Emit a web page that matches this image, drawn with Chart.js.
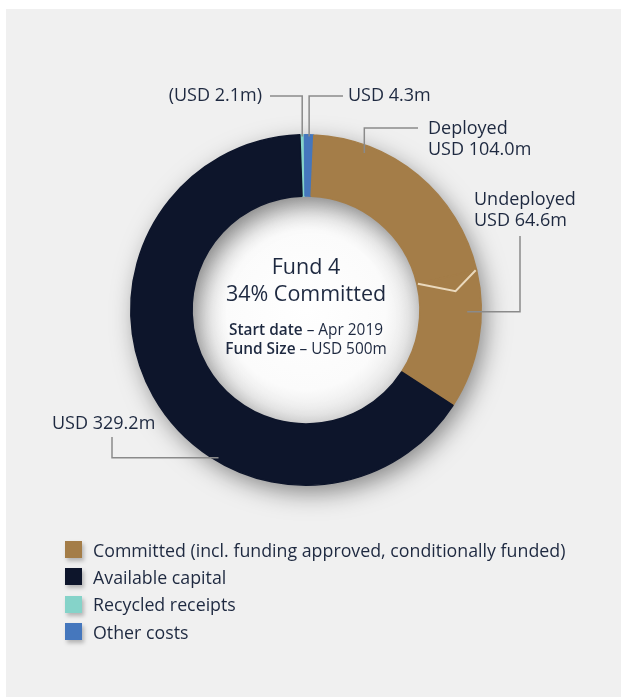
<!DOCTYPE html>
<html lang="en">
<head>
  <meta charset="UTF-8" />
  <title>Fund 4</title>
  <script src="https://cdn.jsdelivr.net/npm/chart.js"></script>
  <style>
    body {
      margin: 0;
      background: #ffffff;
      font-family: "Open Sans", sans-serif;
      width: 621px;
      height: 698px;
      position: relative;
      overflow: hidden;
    }
    #panel {
      position: absolute;
      left: 6px; top: 9px;
      width: 615px; height: 688px;
      background: #f0f0f0;
    }
    #grafico {
      position: absolute;
      left: 0; top: 0;
    }
    #leyenda {
      position: absolute;
      left: 65px; top: 536px;
      color: #1e2940;
      font-size: 17.8px;
    }
    .item {
      height: 27.3px;
      display: flex;
      align-items: center;
    }
    .caja {
      width: 17px; height: 17px;
      margin-right: 11px;
      box-shadow: 2px 3px 4px rgba(0,0,0,0.25);
    }
  </style>
</head>
<body>
<div id="panel"></div>
<canvas id="grafico" width="621" height="698"></canvas>
<div id="leyenda"></div>

<script>
// datos
const sliceLabels = ['Recycled receipts', 'Other costs', 'Deployed', 'Undeployed', 'Available capital'];
const sliceValues = [2.1, 4.3, 104.0, 64.6, 329.2];
const sliceColors = ['#85d3c9', '#4577bd', '#a47d48', '#a47d48', '#0d152b'];

const legendLabels = ['Committed (incl. funding approved, conditionally funded)', 'Available capital', 'Recycled receipts', 'Other costs'];
const legendColors = ['#a47d48', '#0d152b', '#85d3c9', '#4577bd'];

const centerLines = ['Fund 4', '34% Committed'];
const infoLines = [['Start date', ' \u2013 Apr 2019'], ['Fund Size', ' \u2013 USD 500m']];

const textColor = '#1e2940';
const lineColor = '#8a8a8a';

// textos de cada etiqueta
const fmt = v => 'USD ' + v.toFixed(1) + 'm';
const labelTexts = [
  ['(' + fmt(sliceValues[0]) + ')'],
  [fmt(sliceValues[1])],
  ['Deployed', fmt(sliceValues[2])],
  ['Undeployed', fmt(sliceValues[3])],
  [fmt(sliceValues[4])]
];

// lineas guia: indice, fraccion del arco, radio relativo, modo, codo (relativo al centro), texto
const leaders = [
  { i: 0, frac: 0.5, rad: 0.99, mode: 'v', ex: -36, ey: -214, tx: -44, ty: -214, align: 'right' },
  { i: 1, frac: 0.5, rad: 0.99, mode: 'v', ex: 37, ey: -214, tx: 42, ty: -214, align: 'left' },
  { i: 2, frac: 0.24, rad: 0.955, mode: 'v', ex: 112, ey: -182, tx: 122, ty: -181, align: 'left' },
  { i: 3, frac: 0.30, rad: 0.92, mode: 'h', ex: 214, ey: -74, tx: 168, ty: -110, align: 'left' },
  { i: 4, frac: 0.373, rad: 0.98, mode: 'h', ex: -194, ey: 127, tx: -254, ty: 114, align: 'left' }
];

// leyenda
const leyenda = document.getElementById('leyenda');
legendLabels.forEach((t, k) => {
  const row = document.createElement('div');
  row.className = 'item';
  const box = document.createElement('div');
  box.className = 'caja';
  box.style.background = legendColors[k];
  const span = document.createElement('span');
  span.textContent = t;
  row.appendChild(box);
  row.appendChild(span);
  leyenda.appendChild(row);
});

const pt = (a, r, t) => [a.x + r * Math.cos(t), a.y + r * Math.sin(t)];

const anotaciones = {
  id: 'anotaciones',
  beforeDatasetsDraw(chart) {
    const ctx = chart.ctx;
    const a = chart.getDatasetMeta(0).data[0];
    const { x, y, outerRadius, innerRadius } = a;
    ctx.save();
    // hueco blanco con degradado suave
    const g = ctx.createRadialGradient(x, y, 0, x, y, innerRadius);
    g.addColorStop(0, '#ffffff');
    g.addColorStop(0.7, '#fbfbfb');
    g.addColorStop(1, '#e4e4e4');
    ctx.beginPath();
    ctx.arc(x, y, innerRadius + 1, 0, Math.PI * 2);
    ctx.fillStyle = g;
    ctx.fill();
    // sombra del anillo
    ctx.shadowColor = 'rgba(0,0,0,0.45)';
    ctx.shadowBlur = 24;
    ctx.shadowOffsetX = 5;
    ctx.shadowOffsetY = 8;
    ctx.beginPath();
    ctx.arc(x, y, outerRadius - 1, 0, Math.PI * 2);
    ctx.arc(x, y, innerRadius + 1, 0, Math.PI * 2, true);
    ctx.fillStyle = '#0d152b';
    ctx.fill();
    ctx.restore();
  },
  afterDatasetsDraw(chart) {
    const ctx = chart.ctx;
    const arcs = chart.getDatasetMeta(0).data;
    const a = arcs[0];
    const cx = a.x, cy = a.y;
    const R = a.outerRadius, r = a.innerRadius;
    ctx.save();

    // separador entre deployed y undeployed
    const th = arcs[2].endAngle;
    const p1 = pt(a, R - 1, th);
    const p2 = pt(a, r + 0.6 * (R - r), th + 6 * Math.PI / 180);
    const p3 = pt(a, r + 1, th);
    ctx.strokeStyle = '#ead9bd';
    ctx.lineWidth = 2;
    ctx.beginPath();
    ctx.moveTo(p1[0], p1[1]);
    ctx.lineTo(p2[0], p2[1]);
    ctx.lineTo(p3[0], p3[1]);
    ctx.stroke();

    // lineas guia y etiquetas
    ctx.strokeStyle = lineColor;
    ctx.lineWidth = 1.5;
    ctx.fillStyle = textColor;
    ctx.font = '18px "Open Sans"';
    ctx.textBaseline = 'middle';
    leaders.forEach(l => {
      const el = arcs[l.i];
      const t = el.startAngle + l.frac * (el.endAngle - el.startAngle);
      const [ax, ay] = pt(a, R * l.rad, t);
      const ex = cx + l.ex, ey = cy + l.ey;
      ctx.beginPath();
      ctx.moveTo(ax, ay);
      if (l.mode === 'v') {
        ctx.lineTo(ax, ey);
        ctx.lineTo(ex, ey);
      } else {
        ctx.lineTo(ex, ay);
        ctx.lineTo(ex, ey);
      }
      ctx.stroke();
      ctx.textAlign = l.align;
      labelTexts[l.i].forEach((s, k) => {
        ctx.fillText(s, cx + l.tx, cy + l.ty + k * 21);
      });
    });

    // texto central
    ctx.textAlign = 'center';
    ctx.font = '21.5px "Open Sans"';
    ctx.fillText(centerLines[0], cx, cy - 42);
    ctx.fillText(centerLines[1], cx, cy - 15);
    infoLines.forEach((pair, k) => {
      const yy = cy + 21 + k * 19;
      ctx.font = '600 15.4px "Open Sans"';
      const w1 = ctx.measureText(pair[0]).width;
      ctx.font = '15.4px "Open Sans"';
      const w2 = ctx.measureText(pair[1]).width;
      const x0 = cx - (w1 + w2) / 2;
      ctx.textAlign = 'left';
      ctx.font = '600 15.4px "Open Sans"';
      ctx.fillText(pair[0], x0, yy);
      ctx.font = '15.4px "Open Sans"';
      ctx.fillText(pair[1], x0 + w1, yy);
    });
    ctx.restore();
  }
};

new Chart(document.getElementById('grafico'), {
  type: 'doughnut',
  data: {
    labels: sliceLabels,
    datasets: [{
      data: sliceValues,
      backgroundColor: sliceColors,
      borderColor: sliceColors,
      borderWidth: 1.5
    }]
  },
  options: {
    responsive: false,
    animation: false,
    cutout: '65%',
    rotation: -2,
    layout: { padding: { left: 130, top: 134, right: 139, bottom: 212 } },
    plugins: {
      legend: { display: false },
      tooltip: { enabled: false }
    }
  },
  plugins: [anotaciones]
});
</script>
</body>
</html>
